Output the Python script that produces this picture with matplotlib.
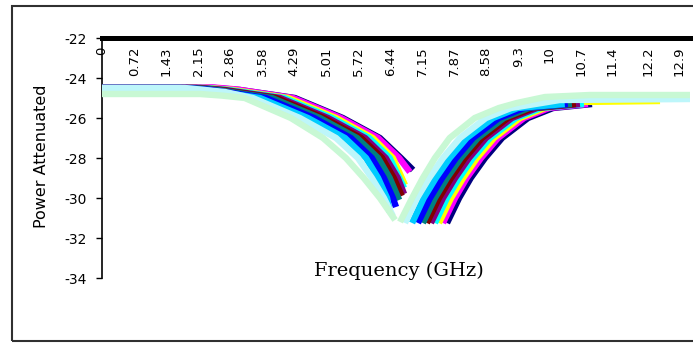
import matplotlib
matplotlib.use("Agg")
import matplotlib.pyplot as plt
from matplotlib.patches import Rectangle

# frequency labels shown along the top axis (GHz)
freq_labels = ["0", "0.72", "1.43", "2.15", "2.86", "3.58", "4.29", "5.01", "5.72",
               "6.44", "7.15", "7.87", "8.58", "9.3", "10", "10.7", "11.4", "12.2", "12.9"]
y_ticks = [-22, -24, -26, -28, -30, -32, -34]

# one colour per sweep (Excel default series palette)
colors = ["#000080", "#FF00FF", "#FFFF00", "#00FFFF", "#800080", "#800000",
          "#008080", "#0000FF", "#00CCFF", "#BDF6FA", "#C8F8D4"]

# falling edge of each notch, up to the last sample before resonance
left_freq = [
    [0, 2.52, 3.08, 4.31, 5.38, 6.21, 6.68, 6.95],
    [0, 2.48, 3.04, 4.27, 5.34, 6.17, 6.64, 6.88],
    [0, 2.37, 2.93, 4.16, 5.23, 6.05, 6.50, 6.77],
    [0, 2.28, 2.84, 4.07, 5.14, 5.97, 6.43, 6.75],
    [0, 2.19, 2.75, 3.98, 5.05, 5.88, 6.34, 6.61, 6.75],
    [0, 2.10, 2.66, 3.89, 4.96, 5.79, 6.26, 6.52, 6.70],
    [0, 2.01, 2.57, 3.80, 4.87, 5.70, 6.17, 6.43, 6.64],
    [0, 1.88, 2.44, 3.66, 4.74, 5.56, 6.03, 6.30, 6.50, 6.57],
    [0, 1.74, 2.30, 3.53, 4.60, 5.43, 5.90, 6.17, 6.37, 6.43],
    [0, 1.85, 2.75, 3.37, 4.42, 5.23, 5.72, 6.03, 6.30, 6.50],
    [0, 2.19, 2.68, 3.19, 4.22, 4.94, 5.45, 5.85, 6.21, 6.55],
]
left_vals = [
    [-24.5, -24.5, -24.6, -25, -26, -27, -28, -28.6],
    [-24.47, -24.47, -24.58, -25, -26, -27, -28, -28.7],
    [-24.5, -24.5, -24.6, -25, -26, -27, -28, -29.35],
    [-24.5, -24.5, -24.6, -25, -26, -27, -28, -29.5],
    [-24.5, -24.5, -24.6, -25, -26, -27, -28, -29, -29.8],
    [-24.5, -24.5, -24.6, -25, -26, -27, -28, -29, -29.9],
    [-24.5, -24.5, -24.6, -25, -26, -27, -28, -29, -30.1],
    [-24.5, -24.5, -24.6, -25, -26, -27, -28, -29, -30, -30.45],
    [-24.5, -24.5, -24.6, -25, -26, -27, -28, -29, -30, -30.7],
    [-24.5, -24.5, -24.7, -25, -26, -27, -28, -29, -30, -30.9],
    [-24.8, -24.8, -24.88, -25, -26, -27, -28, -29, -30, -31.1],
]

# rising edge of each notch
right_freq = [
    [7.71, 7.98, 8.24, 8.56, 8.94, 9.52, 10.08, 10.95],
    [7.62, 7.89, 8.15, 8.47, 8.85, 9.43, 9.99, 10.86],
    [7.53, 7.80, 8.07, 8.38, 8.76, 9.34, 9.90, 10.68, 12.47],
    [7.44, 7.71, 7.98, 8.29, 8.67, 9.25, 9.81, 10.77],
    [7.35, 7.62, 7.89, 8.20, 8.58, 9.16, 9.72, 10.68],
    [7.26, 7.53, 7.80, 8.11, 8.49, 9.07, 9.63, 10.59],
    [7.17, 7.44, 7.71, 8.02, 8.40, 8.98, 9.54, 10.50],
    [7.06, 7.33, 7.60, 7.91, 8.29, 8.87, 9.43, 10.41],
    [6.93, 7.19, 7.46, 7.77, 8.15, 8.74, 9.29, 10.34],
    [6.77, 7.04, 7.31, 7.62, 8.00, 8.58, 9.14, 10.23, 13.14],
    [6.66, 6.93, 7.17, 7.44, 7.77, 8.33, 8.87, 9.27, 9.90, 10.90, 13.14],
]
right_vals = [
    [-31.25, -30, -29, -28, -27, -26, -25.5, -25.3],
    [-31.25, -30, -29, -28, -27, -26, -25.5, -25.3],
    [-31.25, -30, -29, -28, -27, -26, -25.5, -25.2, -25.15],
    [-31.25, -30, -29, -28, -27, -26, -25.5, -25.3],
    [-31.25, -30, -29, -28, -27, -26, -25.5, -25.3],
    [-31.25, -30, -29, -28, -27, -26, -25.5, -25.3],
    [-31.25, -30, -29, -28, -27, -26, -25.5, -25.3],
    [-31.25, -30, -29, -28, -27, -26, -25.5, -25.3],
    [-31.25, -30, -29, -28, -27, -26, -25.5, -25.3],
    [-31.25, -30, -29, -28, -27, -26, -25.5, -25.1, -25.05],
    [-31.2, -30, -29, -28, -27, -26, -25.5, -25.25, -24.95, -24.85, -24.85],
]

fig = plt.figure(figsize=(6.93, 3.44), dpi=100)
ax = fig.add_axes([102 / 693, 66 / 344, 588 / 693, 240 / 344])

for i, c in enumerate(colors):
    ax.plot(left_freq[i], left_vals[i], color=c, lw=4.6,
            solid_capstyle="butt", zorder=2 + i)
    ax.plot(right_freq[i], right_vals[i], color=c, lw=4.6,
            solid_capstyle="butt", zorder=2 + i)

ax.set_xlim(0, 13.14)
ax.set_ylim(-34, -22)

# x axis drawn along the top edge with labels hanging below it
ax.spines["bottom"].set_position(("data", -22))
ax.spines["bottom"].set_linewidth(3.6)
ax.spines["bottom"].set_zorder(20)
ax.spines["top"].set_visible(False)
ax.spines["right"].set_visible(False)
ax.spines["left"].set_linewidth(1.2)

ax.set_xticks([float(t) for t in freq_labels])
ax.set_xticklabels(freq_labels, rotation=90, fontsize=9.5, family="DejaVu Sans")
ax.tick_params(axis="x", length=0, pad=6)

ax.set_yticks(y_ticks)
ax.set_yticklabels([str(v) for v in y_ticks], fontsize=10, family="DejaVu Sans")
ax.tick_params(axis="y", direction="out", length=4, width=1, pad=7)

ax.text(0.505, 0.03, "Frequency (GHz)", transform=ax.transAxes, ha="center",
        va="center", fontsize=14, family="DejaVu Serif")

fig.text(42 / 693, 1 - 156 / 344, "Power Attenuated", rotation=90,
         ha="center", va="center", fontsize=11.5, family="DejaVu Sans")

# chart frame
fig.patches.append(Rectangle((12 / 693, 3 / 344), 720 / 693, 335 / 344,
                             transform=fig.transFigure, fill=False,
                             edgecolor="#303030", lw=1.5))

fig.savefig("out.png", dpi=100)
